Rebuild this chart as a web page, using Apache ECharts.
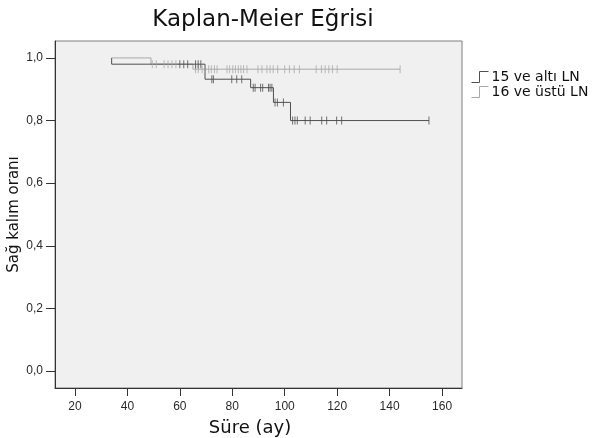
<!DOCTYPE html>
<html>
<head>
<meta charset="utf-8">
<script src="https://cdn.jsdelivr.net/npm/echarts@6/dist/echarts.min.js"></script>
<style>
html,body{margin:0;padding:0;background:#fff;}
#c{width:608px;height:438px;}
</style>
</head>
<body>
<div id="c"></div>
<script>
// Tick labels
const xTicks = [20, 40, 60, 80, 100, 120, 140, 160];
const yTicks = [0, 0.2, 0.4, 0.6, 0.8, 1.0];

// Group names
const groupNames = ['15 ve altı LN', '16 ve üstü LN'];

// Survival step curves [time, survival]
const curveLow = [[34, 1.0], [34, 0.98], [69.6, 0.932], [87, 0.905], [95.7, 0.858], [102.2, 0.80], [155, 0.80]];
const curveHigh = [[34, 1.0], [49, 0.98], [65, 0.964], [144, 0.964]];

// Censored observations [time, survival]
const censorLow = [
  [60, 0.98], [61.5, 0.98], [63, 0.98], [66, 0.98], [67, 0.98], [68, 0.98],
  [72.2, 0.932], [72.8, 0.932], [79.8, 0.932], [81.7, 0.932], [83.6, 0.932],
  [88, 0.905], [88.7, 0.905], [90.8, 0.905], [91.6, 0.905], [93.8, 0.905], [94.4, 0.905], [95.1, 0.905],
  [96.3, 0.858], [97.2, 0.858], [99.5, 0.858],
  [103, 0.80], [103.9, 0.80], [104.8, 0.80], [107.8, 0.80], [109.7, 0.80], [114.1, 0.80], [116, 0.80], [119.8, 0.80], [121.7, 0.80], [155, 0.80]
];
const censorHigh = [
  [49.5, 0.98], [51, 0.98], [54, 0.98], [55.5, 0.98], [57, 0.98], [58.5, 0.98],
  [66, 0.964], [67, 0.964], [68.5, 0.964], [69.5, 0.964], [71, 0.964], [72, 0.964], [73.2, 0.964], [74.2, 0.964],
  [78, 0.964], [79, 0.964], [80.2, 0.964], [81.2, 0.964], [82.3, 0.964], [83.3, 0.964], [84.3, 0.964], [85.6, 0.964],
  [89.8, 0.964], [91.3, 0.964], [93.2, 0.964], [94.4, 0.964], [95.6, 0.964], [97.3, 0.964],
  [100, 0.964], [101.8, 0.964], [103.6, 0.964], [105.6, 0.964],
  [112, 0.964], [114, 0.964], [115.4, 0.964], [116.8, 0.964], [118.2, 0.964], [120, 0.964], [144, 0.964]
];

const darkColor = '#4f4f4f';
const lightColor = '#a9a9a9';
const stepIcon = 'path://M0,11L8,11L8,0L17,0';

const chart = echarts.init(document.getElementById('c'), null, {renderer: 'canvas'});
chart.setOption({
  animation: false,
  backgroundColor: '#ffffff',
  title: {
    text: 'Kaplan-Meier Eğrisi',
    left: 258,
    textAlign: 'center',
    top: 4,
    textStyle: {fontFamily: 'DejaVu Sans', fontSize: 23, fontWeight: 'normal', color: '#111'}
  },
  legend: {
    orient: 'vertical',
    left: 466,
    top: 65,
    itemWidth: 17,
    itemHeight: 11,
    itemGap: 1,
    textStyle: {fontFamily: 'DejaVu Sans', fontSize: 14, color: '#111', lineHeight: 12, padding: [0, 0, 0, -2]},
    data: [
      {name: groupNames[0], icon: stepIcon, itemStyle: {color: 'transparent', borderColor: darkColor, borderWidth: 1}},
      {name: groupNames[1], icon: stepIcon, itemStyle: {color: 'transparent', borderColor: lightColor, borderWidth: 1}}
    ]
  },
  grid: {
    left: 55, right: 146, top: 41, bottom: 50,
    outerBoundsMode: 'none',
    containLabel: false,
    show: true,
    backgroundColor: '#f0f0f0',
    borderColor: '#7f7f7f',
    borderWidth: 1
  },
  xAxis: {
    type: 'value',
    min: 12.4,
    max: 167.6,
    name: 'Süre (ay)',
    nameLocation: 'middle',
    nameGap: 31,
    nameMoveOverlap: false,
    nameTextStyle: {fontFamily: 'DejaVu Sans', fontSize: 18, color: '#111', padding: [0, 17, 0, 0]},
    axisLine: {onZero: false, lineStyle: {color: '#333', width: 1}},
    axisTick: {show: true, length: 8, customValues: xTicks, lineStyle: {color: '#333'}},
    axisLabel: {customValues: xTicks, margin: 13, fontFamily: 'Liberation Sans', fontSize: 12, color: '#2a2a2a'},
    splitLine: {show: false}
  },
  yAxis: {
    type: 'value',
    min: -0.054,
    max: 1.054,
    name: 'Sağ kalım oranı',
    nameLocation: 'middle',
    nameGap: 33,
    nameMoveOverlap: false,
    nameTextStyle: {fontFamily: 'DejaVu Sans', fontSize: 15, color: '#111'},
    axisLine: {show: true, onZero: false, lineStyle: {color: '#333', width: 1}},
    axisTick: {show: true, length: 9, customValues: yTicks, lineStyle: {color: '#333'}},
    axisLabel: {
      customValues: yTicks, margin: 12, fontFamily: 'Liberation Sans', fontSize: 12, color: '#2a2a2a',
      formatter: v => v.toFixed(1).replace('.', ',')
    },
    splitLine: {show: false}
  },
  series: [
    {
      name: groupNames[1], type: 'line', step: 'end', data: curveHigh, showSymbol: false,
      lineStyle: {color: lightColor, width: 1}, itemStyle: {color: lightColor}, z: 2
    },
    {
      name: groupNames[0], type: 'line', step: 'end', data: curveLow, showSymbol: false,
      lineStyle: {color: darkColor, width: 1}, itemStyle: {color: darkColor}, z: 3
    },
    {
      name: groupNames[1], type: 'scatter', data: censorHigh, symbol: 'rect', symbolSize: [1, 8],
      itemStyle: {color: lightColor}, z: 4
    },
    {
      name: groupNames[0], type: 'scatter', data: censorLow, symbol: 'rect', symbolSize: [1, 8],
      itemStyle: {color: darkColor}, z: 5
    }
  ]
});
</script>
</body>
</html>
